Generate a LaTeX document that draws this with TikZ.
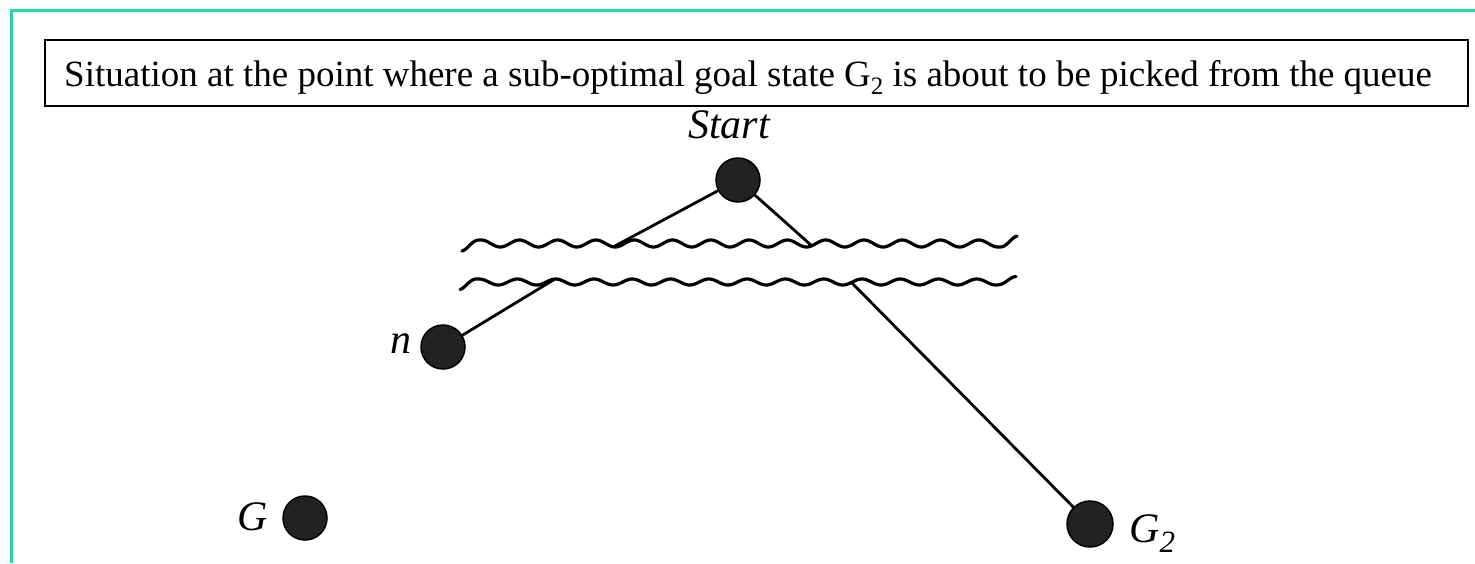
\documentclass[tikz,border=0pt]{standalone}
\usepackage{fontspec}
\setmainfont{Liberation Serif}
\definecolor{borderteal}{RGB}{40,212,176}
\definecolor{dotfill}{RGB}{34,34,34}
\begin{document}
\begin{tikzpicture}[x=1pt,y=-1pt,
  dotnode/.style={circle, draw=black, line width=1.5pt, fill=dotfill, inner sep=0pt, minimum size=44pt},
  edgeline/.style={line width=2.8pt, black},
  wave/.style={line width=3.2pt, black, line cap=round, line join=round},
  lab/.style={font=\fontsize{42}{42}\selectfont\itshape, inner sep=0pt}]
\useasboundingbox (0,0) rectangle (1475,563);
% teal frame
\draw[borderteal, line width=3pt] (11,563) -- (11,10) -- (1475,10);
% title
\node[draw, line width=2.6pt, minimum width=1423pt, minimum height=66pt, inner sep=0pt] (titlebox) at (756.5,73) {};
\node[anchor=base west, inner sep=0pt, font=\fontsize{37}{44}\selectfont] (title) at (64,86)
  {Situation at the point where a sub-optimal goal state G\raisebox{-8pt}{\fontsize{25}{25}\selectfont 2} is about to be picked from the queue};
% nodes
\node[dotnode] (start) at (738,180) {};
\node[dotnode] (n) at (443,347) {};
\node[dotnode] (g) at (305,518) {};
\node[dotnode, minimum size=46pt] (g2) at (1090,524) {};
% labels
\node[lab, anchor=base] (startlab) at (729,138) {Start};
\node[lab, anchor=base east] (nlab) at (412,353) {n};
\node[lab, anchor=base east] (glab) at (268,530) {G};
\node[lab, anchor=base west] (g2lab) at (1129,542) {G\raisebox{-10pt}{\fontsize{31}{31}\selectfont 2}};
% waves
\draw[wave] plot[domain=462:1017, samples=420]
  (\x, {243.5 + (3.5 + 4*max(0,1-(\x-462)/18) + 4*max(0,1-(1017-\x)/18))*cos(9.4044*(\x-462))});
\draw[wave] plot[domain=460:1016, samples=420]
  (\x, {282 + (3 + 4.5*max(0,1-(\x-460)/18) + 2.5*max(0,1-(1016-\x)/18))*cos(9.4044*(\x-460))});
% wave contact points
\coordinate (ua) at (613,247);
\coordinate (ub) at (812,246);
\coordinate (la) at (555,279);
\coordinate (lb) at (852,283);
% edges
\draw[edgeline] (start) -- (ua);
\draw[edgeline] (start) -- (ub);
\draw[edgeline] (la) -- (n);
\draw[edgeline] (lb) -- (g2);
\end{tikzpicture}
\end{document}
